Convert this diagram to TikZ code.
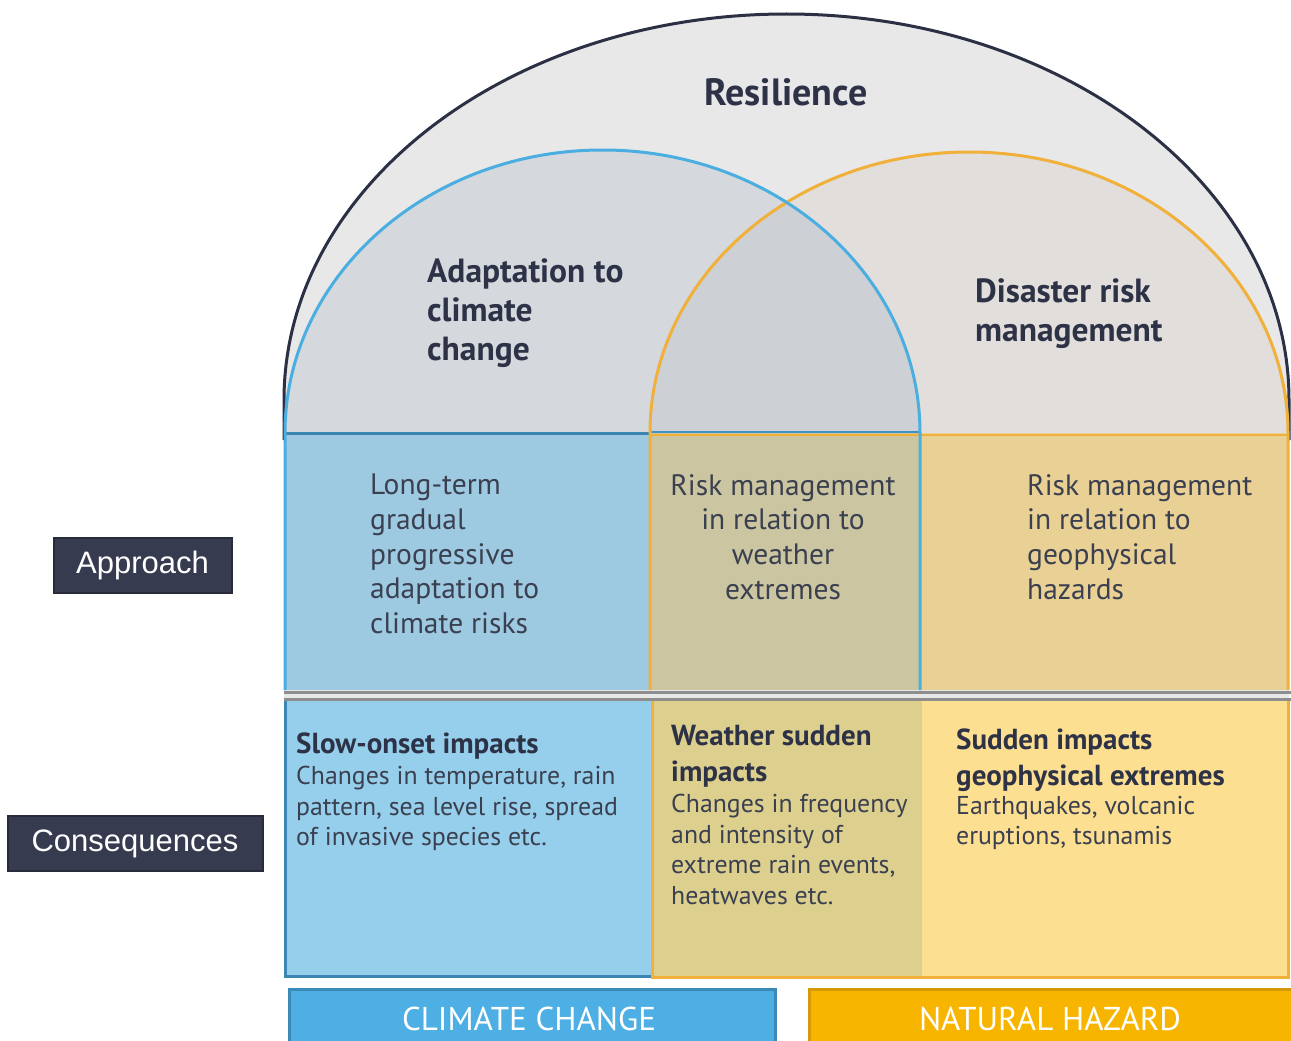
\documentclass[tikz,border=0pt]{standalone}
\usepackage{fontspec}
\setmainfont{PT Sans}
\newfontfamily\labfont{Liberation Sans}
\definecolor{resfill}{HTML}{E8E8E9}
\definecolor{resline}{HTML}{2B3044}
\definecolor{bluearch}{HTML}{D5D9DE}
\definecolor{orarch}{HTML}{E1DEDB}
\definecolor{interarch}{HTML}{CDD1D5}
\definecolor{blueln}{HTML}{4BAEE0}
\definecolor{orln}{HTML}{F0B03A}
\definecolor{steel}{HTML}{3B86B5}
\definecolor{apL}{HTML}{9DC9E1}
\definecolor{apM}{HTML}{CBC6A1}
\definecolor{apR}{HTML}{E9D094}
\definecolor{coL}{HTML}{96CFEC}
\definecolor{coM}{HTML}{DDD08E}
\definecolor{coR}{HTML}{FCDF91}
\definecolor{sepgray}{HTML}{8E8E8E}
\definecolor{ccfill}{HTML}{4DAFE3}
\definecolor{ccline}{HTML}{3A89B8}
\definecolor{nhfill}{HTML}{F8B500}
\definecolor{nhline}{HTML}{D49A0A}
\definecolor{labfill}{HTML}{363B50}
\definecolor{labline}{HTML}{272B3A}
\definecolor{txt}{HTML}{2D3246}
\definecolor{txtlight}{HTML}{3B4050}
\begin{document}
\begin{tikzpicture}[x=1pt,y=-1pt,
  head/.style={inner sep=0pt,anchor=north west,align=left,text=txt,font=\bfseries\fontsize{33.5}{39}\selectfont},
  aptext/.style={inner sep=0pt,anchor=north west,align=left,text=txtlight,font=\fontsize{29.5}{34.7}\selectfont},
  cohead/.style={inner sep=0pt,anchor=north west,align=left,text=txt,font=\bfseries\fontsize{29}{36}\selectfont},
  cobody/.style={inner sep=0pt,anchor=north west,align=left,text=txtlight,font=\fontsize{25.8}{30.5}\selectfont},
  sidelab/.style={draw=labline,line width=2pt,fill=labfill,text=white,font=\labfont\fontsize{31}{36}\selectfont,inner sep=0pt},
  botlab/.style={text=white,font=\fontsize{33}{38}\selectfont,inner sep=0pt}
]
\useasboundingbox (0,0) rectangle (1291,1041);
\begin{scope}
\clip (0,0) rectangle (1291,1041);
\fill[white] (0,0) rectangle (1291,1041);
% Resilience arch
\fill[resfill] (284,700) -- (284,400) arc[start angle=180,end angle=0,x radius=502.5pt,y radius=386pt] -- (1289,700) -- cycle;
\draw[resline,line width=3pt] (284,440) -- (284,400) arc[start angle=180,end angle=0,x radius=502.5pt,y radius=386pt] -- (1289,440);
% arch fills
\fill[bluearch] (284,433) arc[start angle=180,end angle=0,x radius=318pt,y radius=283pt] -- cycle;
\fill[orarch] (650,433) arc[start angle=180,end angle=0,x radius=319pt,y radius=281pt] -- cycle;
\begin{scope}
\clip (284,433) arc[start angle=180,end angle=0,x radius=318pt,y radius=283pt] -- cycle;
\fill[interarch] (650,433) arc[start angle=180,end angle=0,x radius=319pt,y radius=281pt] -- cycle;
\end{scope}
% approach row
\fill[apL] (284,433) rectangle (650,690);
\fill[apM] (650,433) rectangle (920,690);
\fill[apR] (920,433) rectangle (1289,690);
\draw[steel!80!black!60!blueln,line width=3pt] (284,433) -- (650,433);
\draw[steel!70!blueln,line width=2.5pt] (650,432) -- (920,432);
\draw[orln,line width=2.5pt] (650,435) -- (1289,435);
% arch strokes
\draw[orln,line width=3pt] (650,690) -- (650,433) arc[start angle=180,end angle=0,x radius=319pt,y radius=281pt] -- (1288,690);
\draw[blueln,line width=3pt] (285,690) -- (285,433) arc[start angle=180,end angle=0,x radius=317.5pt,y radius=283pt] -- (920,690);
% separator
\draw[sepgray,line width=3pt] (284,692.5) -- (1291,692.5);
\draw[sepgray,line width=3pt] (284,699.5) -- (1291,699.5);
% consequences row
\fill[coL] (284,701) rectangle (652,977);
\fill[coM] (652,701) rectangle (922,977);
\fill[coR] (922,701) rectangle (1289,977);
\draw[steel,line width=3pt] (285,701) -- (285,976.5) -- (652,976.5);
\draw[orln,line width=3pt] (652,701) -- (652,977) -- (1288,977) -- (1288,701);
% bottom boxes
\node[draw=ccline,line width=3pt,fill=ccfill,minimum width=486pt,minimum height=70pt,anchor=north west,inner sep=0pt] (ccbox) at (287.5,987.5) {};
\node[draw=nhline,line width=3pt,fill=nhfill,minimum width=486pt,minimum height=70pt,anchor=north west,inner sep=0pt] (nhbox) at (807.5,987.5) {};
\node[botlab] (cc) at (529,1019) {CLIMATE CHANGE};
\node[botlab] (nh) at (1050,1019) {NATURAL HAZARD};
\end{scope}
% titles
\node[text=txt,font=\bfseries\fontsize{38}{44}\selectfont,inner sep=0pt] (res) at (786,92) {Resilience};
\node[head] (adapt) at (427,258) {Adaptation to\\climate\\change};
\node[head] (drm) at (975,278) {Disaster risk\\management};
% approach texts
\node[aptext] (ap1) at (370,474) {Long-term\\gradual\\progressive\\adaptation to\\climate risks};
\node[aptext,anchor=north,align=center] (ap2) at (783,474) {Risk management\\in relation to\\weather\\extremes};
\node[aptext] (ap3) at (1027,474) {Risk management\\in relation to\\geophysical\\hazards};
% consequences texts
\node[cohead] (c1h) at (296,733) {Slow-onset impacts};
\node[cobody] (c1b) at (296,766) {Changes in temperature, rain\\pattern, sea level rise, spread\\of invasive species etc.};
\node[cohead] (c2h) at (671,725) {Weather sudden\\impacts};
\node[cobody] (c2b) at (671,794) {Changes in frequency\\and intensity of\\extreme rain events,\\heatwaves etc.};
\node[cohead] (c3h) at (956,729) {Sudden impacts\\geophysical extremes};
\node[cobody] (c3b) at (956,796) {Earthquakes, volcanic\\eruptions, tsunamis};
% side labels
\node[sidelab,minimum width=178pt,minimum height=55pt] (appr) at (142.5,565) {Approach\hspace{10pt}};
\node[sidelab,minimum width=255pt,minimum height=55pt] (cons) at (135,843.5) {Consequences\hspace{16pt}};
\end{tikzpicture}
\end{document}
